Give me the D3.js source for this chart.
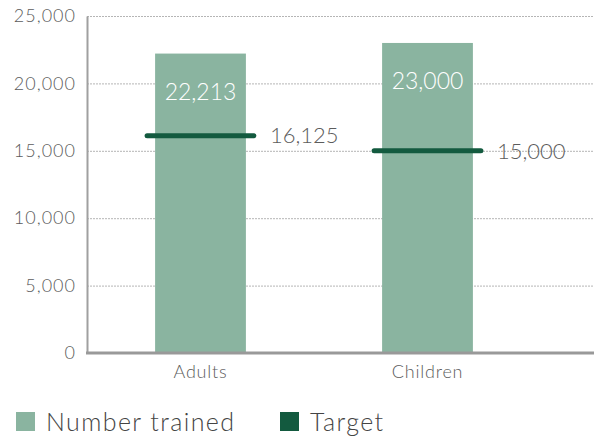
<!DOCTYPE html>
<html><head><meta charset="utf-8">
<script src="https://cdn.jsdelivr.net/npm/d3@7"></script>
<style>body{margin:0;background:#fff}svg{display:block;font-family:Lato,"Open Sans",sans-serif;font-weight:300}</style>
</head><body><svg id="c" width="594" height="436"></svg>
<script>
const categories = ["Adults", "Children"];
const trained = [22213, 23000];
const targets = [16125, 15000];
const yTicks = [0, 5000, 10000, 15000, 20000, 25000];
const legendLabels = ["Number trained", "Target"];

const svg = d3.select("#c");
const colBar = "#8ab4a0", colTarget = "#135a3f", colText = "#5c5c5c";
const x = d3.scaleBand().domain(categories).range([87, 541]).paddingInner(0.6).paddingOuter(0.3);
const y = d3.scaleLinear().domain([0, 25000]).range([353, 16]);
const fmt = d3.format(",");

// grid
svg.append("g").selectAll("line").data(yTicks.filter(d => d > 0)).join("line")
  .attr("x1", 87).attr("x2", 594).attr("y1", d => y(d) + 0.5).attr("y2", d => y(d) + 0.5)
  .attr("stroke", "#b5b5b5").attr("stroke-width", 1).attr("stroke-dasharray", "2,1");

// y axis
const ya = svg.append("g").attr("transform", "translate(87,0)")
  .call(d3.axisLeft(y).tickValues(yTicks).tickFormat(fmt).tickSize(0).tickPadding(11));
ya.select(".domain").attr("stroke", "#a0a0a0").attr("stroke-width", 2);
ya.selectAll("text").attr("font-size", 18).attr("fill", colText).attr("font-family", "Lato")
  .attr("font-weight", 300).attr("letter-spacing", 1);

// bars
svg.append("g").selectAll("rect").data(categories).join("rect")
  .attr("x", d => x(d)).attr("width", x.bandwidth())
  .attr("y", (d, i) => y(trained[i])).attr("height", (d, i) => y(0) - y(trained[i]))
  .attr("fill", colBar);

// bar labels
svg.append("g").selectAll("text").data(categories).join("text")
  .attr("x", d => x(d) + x.bandwidth() / 2).attr("y", (d, i) => y(trained[i]) + 46)
  .attr("text-anchor", "middle").attr("fill", "#fff").attr("font-size", 23)
  .text((d, i) => fmt(trained[i]));

// x axis
const xa = svg.append("g").attr("transform", "translate(0,353)")
  .call(d3.axisBottom(x).tickSize(0).tickPadding(12));
xa.select(".domain").remove();
xa.selectAll("text").attr("font-size", 18).attr("fill", colText).attr("font-family", "Lato")
  .attr("font-weight", 300).attr("letter-spacing", 0.8);
svg.append("line").attr("x1", 86).attr("x2", 594).attr("y1", 353).attr("y2", 353)
  .attr("stroke", "#999").attr("stroke-width", 3);

// targets
svg.append("g").selectAll("line").data(categories).join("line")
  .attr("x1", d => x(d) - 8).attr("x2", d => x(d) + x.bandwidth() + 8)
  .attr("y1", (d, i) => y(targets[i])).attr("y2", (d, i) => y(targets[i]))
  .attr("stroke", colTarget).attr("stroke-width", 5).attr("stroke-linecap", "round");
svg.append("g").selectAll("text").data(categories).join("text")
  .attr("x", d => x(d) + x.bandwidth() + 24).attr("y", (d, i) => y(targets[i]))
  .attr("dy", "0.35em").attr("fill", colText).attr("font-size", 22)
  .text((d, i) => fmt(targets[i]));

// legend
const lx = [16, 280], lc = [colBar, colTarget];
const lg = svg.append("g").selectAll("g").data(legendLabels).join("g")
  .attr("transform", (d, i) => `translate(${lx[i]},412)`);
lg.append("rect").attr("width", 19).attr("height", 19).attr("fill", (d, i) => lc[i]);
lg.append("text").attr("x", 30).attr("y", 19).attr("font-size", 25).attr("fill", "#444")
  .attr("letter-spacing", 1.4).text(d => d);
</script></body></html>
